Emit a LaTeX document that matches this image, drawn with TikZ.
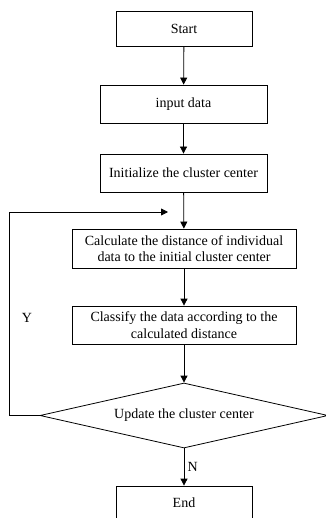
\documentclass[tikz,border=0pt]{standalone}
\usepackage{fontspec}
\setmainfont{Liberation Serif}
\usetikzlibrary{shapes.geometric,arrows.meta}
\begin{document}
\begin{tikzpicture}[x=1pt,y=-1pt,
  every node/.style={font=\fontsize{14}{16.5}\selectfont},
  box/.style={draw,line width=0.8pt,align=center,inner sep=0pt},
  test/.style={draw,diamond,line width=0.8pt,aspect=4.4,inner sep=0pt,
    minimum width=288pt,minimum height=65pt},
  flow/.style={-{Triangle[length=7pt,width=7pt]},line width=0.8pt}]
  \useasboundingbox (0,0) rectangle (325,518);
  \node[box,minimum width=136pt,minimum height=35pt] (start) at (184,28.5) {Start};
  \node[box,minimum width=167pt,minimum height=38pt] (input) at (183.5,104) {input data};
  \node[box,minimum width=167pt,minimum height=38pt] (init) at (183.5,173) {Initialize the cluster center};
  \node[box,minimum width=224pt,minimum height=39pt] (calc) at (184,248.5)
    {Calculate the distance of individual\\data to the initial cluster center};
  \node[box,minimum width=224pt,minimum height=38pt] (classify) at (184,325)
    {Classify the data according to the\\calculated distance};
  \node[test] (update) at (184,415.5) {Update the cluster center};
  \node[box,minimum width=136pt,minimum height=34pt] (end) at (184,503) {End};
  \coordinate (loopin) at (168,212);
  % main flow
  \draw[flow] (start) -- (input);
  \draw[flow] (input) -- (init);
  \draw[flow] (init) -- (calc);
  \draw[flow] (calc) -- (classify);
  \draw[flow] (classify) -- (update);
  \draw[flow] (update) -- node[right] {N} (end);
  % loop back
  \draw[flow] (update.west) -- ++(-30,0) |- (loopin);
  \node (yes) at (27,318) {Y};
\end{tikzpicture}
\end{document}
